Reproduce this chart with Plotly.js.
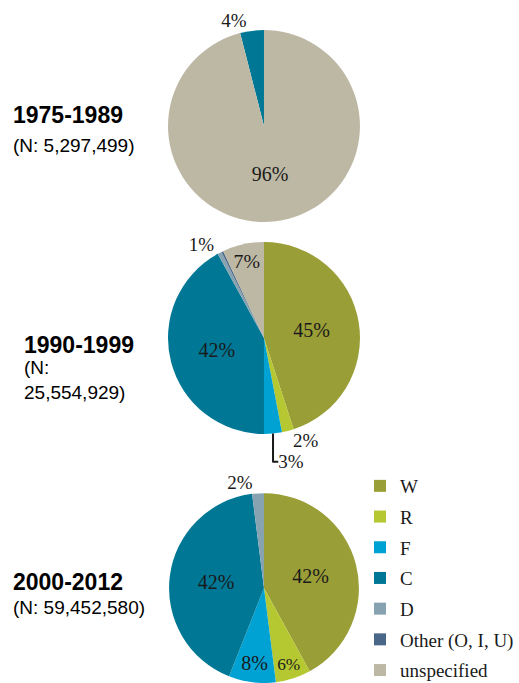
<!DOCTYPE html>
<html>
<head>
<meta charset="utf-8">
<script src="https://cdn.plot.ly/plotly-3.0.1.min.js"></script>
<style>
  html, body { margin: 0; padding: 0; background: #fff; }
  #chart { width: 519px; height: 683px; }
</style>
</head>
<body>
<div id="chart"></div>
<script>
// Categories shared by all three pies (clockwise from 12 o'clock)
const categories = ['W', 'R', 'F', 'C', 'D', 'Other (O, I, U)', 'unspecified'];

// Period labels and record counts
const periods = ['1975-1989', '1990-1999', '2000-2012'];
const countLabels = ['(N: 5,297,499)', '(N:<br>25,554,929)', '(N: 59,452,580)'];

// Shares in percent
const share1975 = [0, 0, 0, 4, 0, 0, 96];
const share1990 = [45, 2, 3, 42, 0.7, 0.3, 7];
const share2000 = [42, 6, 8, 42, 2, 0, 0];

const colors = ['#9a9e36', '#b5c831', '#00a1d3', '#007895', '#87a2b0', '#4a6789', '#bdb8a4'];
const pctFont = 'Liberation Serif, Times New Roman, serif';

function pie(values, domainY, textpos, rotation) {
    return {
        type: 'pie',
        labels: categories,
        values: values,
        sort: false,
        direction: 'clockwise',
        rotation: rotation || 0,
        domain: { x: [0.3237, 0.6936], y: domainY },
        marker: { colors: colors, line: { width: 0 } },
        texttemplate: '%{percent:.0%}',
        textposition: textpos,
        insidetextorientation: 'horizontal',
        insidetextfont: { family: pctFont, size: 20, color: '#1a1a1a' },
        outsidetextfont: { family: pctFont, size: 19, color: '#1a1a1a' },
        showlegend: false,
        hoverinfo: 'label+percent'
    };
}

const traces = [
    // C slice ends at 12 o'clock in the first pie
    pie(share1975, [0.675, 0.956],
        ['none', 'none', 'none', 'outside', 'none', 'none', 'inside'],
        -share1975[3] * 3.6),
    pie(share1990, [0.3646, 0.6457],
        ['inside', 'outside', 'outside', 'inside', 'outside', 'none', 'inside']),
    pie(share2000, [0, 0.278],
        ['inside', 'inside', 'inside', 'inside', 'outside', 'none', 'none'])
];

// Legend entries (one group each so the rows can be spaced out)
categories.forEach(function (c, i) {
    traces.push({
        type: 'scatter',
        mode: 'markers',
        x: [null], y: [null],
        name: c,
        legendgroup: 'g' + i,
        marker: { symbol: 'square', size: 12, color: colors[i] },
        showlegend: true,
        hoverinfo: 'skip'
    });
});

const labelY = [[115, 145], [345, 380], [582, 607]];
const labelX = [11, 22, 11];
const annotations = [];
periods.forEach(function (p, i) {
    annotations.push({
        xref: 'paper', yref: 'paper', x: labelX[i] / 519, y: 1 - labelY[i][0] / 683,
        xanchor: 'left', yanchor: 'middle', showarrow: false, align: 'left',
        text: '<b>' + p + '</b>',
        font: { family: 'Liberation Sans, Arial, sans-serif', size: 23, color: '#000' }
    });
    annotations.push({
        xref: 'paper', yref: 'paper', x: labelX[i] / 519, y: 1 - labelY[i][1] / 683,
        xanchor: 'left', yanchor: 'middle', showarrow: false, align: 'left',
        text: countLabels[i],
        font: { family: 'Liberation Sans, Arial, sans-serif', size: 19, color: '#000' }
    });
});

const layout = {
    width: 519,
    height: 683,
    margin: { l: 0, r: 0, t: 0, b: 0, autoexpand: false },
    paper_bgcolor: '#fff',
    plot_bgcolor: 'rgba(0,0,0,0)',
    xaxis: { visible: false },
    yaxis: { visible: false },
    showlegend: true,
    legend: {
        x: 360 / 519, y: 1 - 467 / 683, xanchor: 'left', yanchor: 'top',
        traceorder: 'grouped', tracegroupgap: 3,
        font: { family: pctFont, size: 19, color: '#1a1a1a' },
        bgcolor: 'rgba(0,0,0,0)'
    },
    annotations: annotations
};

Plotly.newPlot('chart', traces, layout, { displayModeBar: false, staticPlot: true });
</script>
</body>
</html>
